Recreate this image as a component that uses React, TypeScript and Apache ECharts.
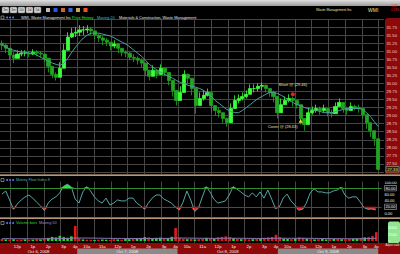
import React, { useEffect, useRef } from "react";
import * as echarts from "echarts";

// ---------- data ----------
const dayLabels = ["Oct 6, 2008", "Oct 7, 2008", "Oct 8, 2008", "Oct 9, 2008"];
const dayFirstSlot = ["11:00", "9:30", "9:30", "9:30"];

const priceClose = [
  31.19, 31.09, 30.88, 30.78, 30.91, 30.94, 30.94, 30.91, 30.97, 30.94,
  30.91, 30.78, 30.53, 30.28, 30.19, 30.47, 31.03, 31.44, 31.56, 31.59,
  31.66, 31.66, 31.69, 31.63, 31.5, 31.41, 31.34, 31.28, 31.16, 31.22,
  31.09, 30.97, 30.94, 30.81, 30.78, 30.72, 30.63, 30.41, 30.22, 30.41,
  30.28, 30.47, 30.34, 30.09, 29.78, 29.47, 29.72, 30.28, 30.16, 29.84,
  29.31, 29.53, 29.63, 29.72, 29.31, 29.16, 29.09, 28.91, 28.78, 29.22,
  29.47, 29.53, 29.59, 29.66, 29.84, 29.84, 29.91, 29.94, 29.84, 29.72,
  29.59, 29.09, 29.34, 29.47, 29.53, 29.47, 29.34, 28.91, 28.72, 29.09,
  29.16, 29.22, 29.16, 29.22, 29.09, 29.06, 29.28, 29.41, 29.22, 29.16,
  29.28, 29.25, 29.22, 29.03, 28.78, 28.53, 28.28, 27.33,
];
const priceHigh = [
  31.34, 31.22, 31.03, 30.97, 31.03, 31.03, 31.03, 31.0, 31.06, 31.03,
  31.0, 30.91, 30.72, 30.47, 30.34, 30.66, 31.22, 31.59, 31.72, 31.75,
  31.81, 31.78, 31.81, 31.75, 31.63, 31.53, 31.47, 31.41, 31.28, 31.34,
  31.25, 31.09, 31.03, 30.97, 30.91, 30.84, 30.78, 30.56, 30.41, 30.56,
  30.41, 30.59, 30.47, 30.25, 29.97, 29.63, 29.91, 30.41, 30.31, 30.03,
  29.53, 29.72, 29.78, 29.84, 29.47, 29.31, 29.25, 29.09, 28.94, 29.38,
  29.63, 29.66, 29.72, 29.78, 29.97, 29.97, 30.0, 30.03, 29.97, 29.84,
  29.78, 29.34, 29.53, 29.59, 29.66, 29.59, 29.47, 29.16, 28.91, 29.25,
  29.28, 29.34, 29.28, 29.34, 29.22, 29.19, 29.41, 29.53, 29.34, 29.28,
  29.41, 29.34, 29.34, 29.16, 28.91, 28.69, 28.47, 27.84,
];
const priceLow = [
  31.03, 30.94, 30.72, 30.63, 30.81, 30.84, 30.84, 30.81, 30.88, 30.84,
  30.81, 30.66, 30.34, 30.16, 30.09, 30.28, 30.78, 31.22, 31.41, 31.44,
  31.47, 31.5, 31.56, 31.5, 31.38, 31.28, 31.19, 31.16, 31.03, 31.09,
  30.94, 30.84, 30.81, 30.72, 30.66, 30.59, 30.5, 30.22, 30.09, 30.28,
  30.16, 30.34, 30.22, 29.94, 29.59, 29.31, 29.53, 30.16, 29.97, 29.63,
  29.06, 29.34, 29.47, 29.59, 29.09, 29.0, 28.94, 28.75, 28.66, 29.03,
  29.31, 29.38, 29.47, 29.53, 29.66, 29.72, 29.75, 29.78, 29.72, 29.59,
  29.41, 28.91, 29.16, 29.34, 29.41, 29.28, 29.22, 28.72, 28.53, 28.94,
  29.03, 29.09, 29.03, 29.09, 28.97, 28.94, 29.16, 29.28, 29.09, 29.03,
  29.16, 29.16, 29.09, 28.91, 28.59, 28.34, 28.06, 27.31,
];
const firstOpen = 31.25;

const movingAvg20 = [
  31.19, 31.13, 31.06, 31.03, 31.0, 30.97, 30.97, 30.94, 30.94, 30.88,
  30.81, 30.75, 30.69, 30.63, 30.59, 30.56, 30.63, 30.78, 30.97, 31.13,
  31.28, 31.41, 31.5, 31.56, 31.56, 31.56, 31.53, 31.5, 31.47, 31.41,
  31.34, 31.28, 31.22, 31.13, 31.03, 30.94, 30.84, 30.72, 30.59, 30.5,
  30.41, 30.34, 30.28, 30.22, 30.16, 30.09, 30.03, 30.0, 29.94, 29.91,
  29.88, 29.84, 29.78, 29.69, 29.59, 29.47, 29.38, 29.28, 29.19, 29.13,
  29.09, 29.09, 29.16, 29.25, 29.34, 29.44, 29.53, 29.59, 29.66, 29.72,
  29.72, 29.69, 29.63, 29.56, 29.47, 29.41, 29.34, 29.31, 29.25, 29.22,
  29.19, 29.16, 29.13, 29.09, 29.09, 29.09, 29.13, 29.16, 29.19, 29.22,
  29.22, 29.22, 29.22, 29.19, 29.09, 28.97, 28.81, 28.66,
];

const moneyFlow = [
  61, 71, 42, 12, 29, 42, 52, 58, 48, 35,
  23, 8, 32, 45, 52, 65, 86, 93, 84, 45,
  32, 68, 85, 71, 52, 39, 32, 48, 26, 32,
  42, 39, 39, 48, 48, 32, 23, 12, 32, 48,
  58, 58, 45, 39, 32, 19, 10, 35, 71, 42,
  5, 16, 52, 85, 68, 45, 32, 35, 39, 58,
  85, 77, 68, 58, 52, 65, 52, 68, 48, 74,
  45, 14, 20, 48, 61, 39, 26, 9, 12, 32,
  65, 78, 68, 68, 65, 65, 71, 74, 83, 58,
  48, 52, 52, 35, 17, 12, 13, 10,
];
const mfiUpper = 80;
const mfiLower = 20;

const volume = [
  800, 600, 500, 700, 400, 500, 600, 400, 500, 700,
  600, 900, 1200, 1600, 1400, 2000, 1500, 1200, 1800, 5800,
  1000, 600, 500, 500, 400, 500, 600, 500, 400, 700,
  600, 500, 800, 700, 900, 1000, 1200, 1500, 1400, 1000,
  1200, 1300, 900, 1100, 1600, 5000,
  1200, 900, 700, 800, 600, 700, 900, 1200, 1000, 800,
  1400, 1600, 1800, 1500, 1100, 900, 700, 800, 600, 700,
  800, 900, 1200, 1400, 1600, 2400,
  1500, 900, 800, 700, 900, 1400, 1200, 900, 700, 600,
  700, 800, 600, 700, 800, 900, 700, 600, 800, 900,
  1000, 1200, 1400, 1600, 1900, 3400,
];
// g = up-volume (green), r = down-volume (red), one letter per bar
const volumeSide =
  "rgrgrrgrgr" + "grgggggggr" +
  "rgrrgrggrr" + "grggrgggrg" + "ggrggr" +
  "rrgrgrrgrg" + "rrrrgrgrrg" + "rgrrrr" +
  "rggrgrrgrg" + "rggrgrgrrg" + "grgrrr";
const volumeAvg50 = [
  900, 900, 880, 870, 860, 850, 850, 840, 840, 830,
  830, 850, 870, 900, 920, 950, 980, 1000, 1030, 1150,
  1150, 1140, 1130, 1120, 1100, 1080, 1060, 1040, 1020, 1000,
  990, 980, 970, 960, 950, 950, 950, 960, 970, 980,
  990, 1000, 1000, 1010, 1030, 1150,
  1140, 1130, 1120, 1100, 1080, 1060, 1040, 1030, 1020, 1010,
  1020, 1040, 1060, 1070, 1060, 1050, 1040, 1030, 1010, 1000,
  990, 980, 990, 1000, 1020, 1060,
  1060, 1050, 1040, 1030, 1020, 1030, 1040, 1030, 1020, 1000,
  980, 960, 940, 920, 900, 890, 880, 870, 860, 860,
  870, 890, 910, 940, 980, 1040,
];

const priceTicks = [27.5, 31.75]; // labelled range
const mfiTicks = [0, 20, 40, 60, 80, 100];
const volumeTicks = [0, 2500, 5000];
const lastPrice = "27.33";
const shortTrade = { index: 75, value: 29.66, text: "Short @ (29.46)" };
const coverTrade = { index: 77, value: 28.84, text: "Cover @ (28.63)" };
const gridDivisionsPerDay = 6;

// ---------- categories (15-minute slots) ----------
type Slot = { day: number; h: number; m: number };
const slots: Slot[] = [];
dayFirstSlot.forEach((first, d) => {
  let [h, m] = first.split(":").map(Number);
  while (h < 16) {
    slots.push({ day: d, h, m });
    m += 15;
    if (m >= 60) { m -= 60; h += 1; }
  }
});
const categories = slots.map((s) => `${s.day}|${s.h}:${String(s.m).padStart(2, "0")}`);
categories.push("end");

const hourLabel = (s: Slot) => {
  if (s.h === 15 && s.m === 45) return "4p";
  if (s.m !== 0) return "";
  if (s.h < 12) return `${s.h}a`;
  if (s.h === 12) return "12p";
  return `${s.h - 12}p`;
};

const FONT = "Liberation Sans";

export default function App() {
  const ref = useRef<HTMLDivElement>(null);
  useEffect(() => {
    const chart = echarts.init(ref.current!, null, { renderer: "svg" });

    const candles = priceClose.map((c, i) => {
      const o = i === 0 ? firstOpen : priceClose[i - 1];
      const lo = Math.min(priceLow[i], o, c);
      const hi = Math.max(priceHigh[i], o, c);
      return [o, c, lo, hi];
    });
    const volData = volume.map((v, i) => ({
      value: v,
      itemStyle: { color: volumeSide[i] === "r" ? "#e81818" : "#22dd22" },
    }));
    const hiBase = moneyFlow.map(() => mfiUpper);
    const hiTop = moneyFlow.map((v) => Math.max(v - mfiUpper, 0));
    const loBase = moneyFlow.map((v) => Math.min(v, mfiLower));
    const loTop = moneyFlow.map((v) => mfiLower - Math.min(v, mfiLower));

    const xBase = (gridIndex: number) => ({
      type: "category",
      gridIndex,
      data: categories,
      boundaryGap: true,
      axisLine: { show: false },
      axisTick: { show: false },
      axisLabel: { show: false },
      splitLine: { show: false },
    });

    const legendFont = { fontFamily: FONT, fontSize: 3.8 };

    const staticGraphics: any[] = [
      // top toolbar
      { type: "rect", shape: { x: 0, y: 0, width: 400, height: 6 }, z: 1,
        style: { fill: new echarts.graphic.LinearGradient(0, 0, 0, 1, [{ offset: 0, color: "#e0e0e0" }, { offset: 1, color: "#9a9a9a" }]) } },
      ...["3m", "3m", "10t", "1d", "5d"].map((t, i) => ({
        type: "group", x: 2 + i * 8, y: 7, z: 1,
        children: [
          { type: "rect", shape: { x: 0, y: 0, width: 7, height: 6, r: 1 }, style: { fill: "#cfcfcf", stroke: "#777", lineWidth: 0.5 } },
          { type: "text", style: { x: 3.5, y: 3, text: t, fill: "#333", fontSize: 3.2, fontFamily: FONT, align: "center", verticalAlign: "middle" } },
        ],
      })),
      ...["#bbbbbb", "#3355dd", "#cc6633", "#3366ee", "#ccaa55", "#ee5522"].map((c, i) => ({
        type: "rect", z: 1, shape: { x: 46 + i * 7.5, y: 8, width: 4, height: 4 }, style: { fill: c },
      })),
      // legend row of price pane
      { type: "rect", z: 6, shape: { x: 1, y: 16, width: 3, height: 3 }, style: { fill: "#000", stroke: "#ddd", lineWidth: 0.5 } },
      ...[0, 1, 2].map((i) => ({ type: "circle", z: 6, shape: { cx: 7 + i * 3, cy: 17.5, r: 1 }, style: { fill: "#5577ee" } })),
      { type: "text", z: 6, style: { x: 21, y: 17.5, text: "WMI, Waste Management Inc", fill: "#e8e8e8", ...legendFont, verticalAlign: "middle" } },
      { type: "text", z: 6, style: { x: 72, y: 17.5, text: "Price History", fill: "#33ee33", ...legendFont, verticalAlign: "middle" } },
      { type: "text", z: 6, style: { x: 97, y: 17.5, text: "Moving 20", fill: "#44bbbb", ...legendFont, verticalAlign: "middle" } },
      { type: "text", z: 6, style: { x: 119, y: 17.5, text: "Materials & Construction, Waste Management", fill: "#e8e8e8", ...legendFont, verticalAlign: "middle" } },
      // right titles
      { type: "text", z: 6, style: { x: 316, y: 9.5, text: "Waste Management Inc", fill: "#e8e0a0", fontFamily: FONT, fontSize: 3.4, verticalAlign: "middle" } },
      { type: "text", z: 6, style: { x: 368, y: 9.5, text: "WMI", fill: "#e8e0a0", fontFamily: FONT, fontSize: 5, verticalAlign: "middle" } },
      { type: "text", z: 6, style: { x: 390.5, y: 6, text: "-0.37", fill: "#ee2222", fontFamily: FONT, fontSize: 3, verticalAlign: "middle" } },
      { type: "text", z: 6, style: { x: 390, y: 10, text: "-1.33%", fill: "#ee2222", fontFamily: FONT, fontSize: 3, verticalAlign: "middle" } },
      // price axis column
      { type: "rect", z: -1, shape: { x: 385, y: 18, width: 15, height: 156, r: [3, 0, 0, 0] }, style: { fill: "#8e0a0a" } },
      // last price tag
      { type: "rect", z: 6, shape: { x: 386, y: 166.5, width: 13, height: 5.5 }, style: { fill: "#222", stroke: "#bbb", lineWidth: 0.5 } },
      { type: "text", z: 7, style: { x: 392.5, y: 169.3, text: lastPrice, fill: "#f0e040", fontFamily: FONT, fontSize: 4.2, align: "center", verticalAlign: "middle" } },
      // cover below price pane
      { type: "rect", z: 5, shape: { x: 0, y: 174, width: 400, height: 7.5 }, style: { fill: "#000" } },
      // separators
      { type: "rect", z: 6, shape: { x: 0, y: 174.5, width: 400, height: 1.3 }, style: { fill: "#f3c9a0" } },
      { type: "rect", z: 6, shape: { x: 0, y: 217.5, width: 400, height: 1.3 }, style: { fill: "#f3c9a0" } },
      // MFI legend
      { type: "rect", z: 6, shape: { x: 1, y: 178.5, width: 3, height: 3 }, style: { fill: "#000", stroke: "#ddd", lineWidth: 0.5 } },
      ...[0, 1, 2].map((i) => ({ type: "circle", z: 6, shape: { cx: 7 + i * 3, cy: 180, r: 1 }, style: { fill: "#5577ee" } })),
      { type: "text", z: 6, style: { x: 16, y: 180, text: "Money Flow Index 8", fill: "#55aaaa", ...legendFont, verticalAlign: "middle" } },
      // Volume legend
      { type: "rect", z: 6, shape: { x: 1, y: 221.5, width: 3, height: 3 }, style: { fill: "#000", stroke: "#ddd", lineWidth: 0.5 } },
      ...[0, 1, 2].map((i) => ({ type: "circle", z: 6, shape: { cx: 7 + i * 3, cy: 223, r: 1 }, style: { fill: "#5577ee" } })),
      { type: "text", z: 6, style: { x: 16, y: 223, text: "Volume bars", fill: "#33dd33", ...legendFont, verticalAlign: "middle" } },
      { type: "text", z: 6, style: { x: 39, y: 223, text: "Moving 50", fill: "#a090c8", ...legendFont, verticalAlign: "middle" } },
      // volume axis box
      { type: "rect", z: -1, shape: { x: 388, y: 221.5, width: 12, height: 21.5, r: 2 }, style: { fill: "#8fe88f" } },
      // bottom time band
      { type: "rect", z: -1, shape: { x: 0, y: 243, width: 400, height: 11 }, style: { fill: "#8e0a0a" } },
      { type: "text", z: 6, style: { x: 385.5, y: 245.5, text: "Adjust scale", fill: "#e8e8e8", fontFamily: FONT, fontSize: 2.6, verticalAlign: "middle" } },
    ];

    const option: any = {
      animation: false,
      backgroundColor: "#000",
      textStyle: { fontFamily: FONT },
      grid: [
        { left: 0, width: 385, top: 19, height: 161 },
        { left: 0, width: 385, top: 182, height: 31 },
        { left: 0, width: 385, top: 222, height: 19 },
      ],
      xAxis: [
        xBase(0),
        xBase(1),
        {
          ...xBase(2),
          axisLabel: {
            show: true,
            interval: (i: number) => i > 0 && !!slots[i] && hourLabel(slots[i]) !== "",
            formatter: (_v: string, i: number) => (slots[i] ? hourLabel(slots[i]) : ""),
            color: "#f0f0f0",
            fontSize: 4.2,
            margin: 3.5,
            fontFamily: FONT,
          },
        },
      ],
      yAxis: [
        {
          type: "value", gridIndex: 0, position: "right", min: 27, max: 32, interval: 0.25,
          axisLine: { show: false }, axisTick: { show: false },
          axisLabel: {
            color: "#f2d2d2", fontSize: 4.2, margin: 2.5, fontFamily: FONT,
            formatter: (v: number) => (v >= priceTicks[0] - 1e-6 && v <= priceTicks[1] + 1e-6 ? v.toFixed(2) : ""),
          },
          splitLine: { show: true, lineStyle: { color: "#464646", width: 1 } },
        },
        {
          type: "value", gridIndex: 1, position: "right", min: 0, max: 100, interval: 20,
          axisLine: { show: false }, axisTick: { show: false },
          axisLabel: {
            color: "#f0f0f0", fontSize: 4, margin: 3, fontFamily: FONT,
            formatter: (v: number) => (mfiTicks.includes(v) ? (v === mfiUpper || v === mfiLower ? `{b|${v.toFixed(2)}}` : v.toFixed(2)) : ""),
            rich: { b: { color: "#f0f0f0", fontSize: 4, borderColor: "#bbb", borderWidth: 0.5, padding: [0.5, 1], backgroundColor: "#111" } },
          },
          splitLine: { show: false },
        },
        {
          type: "value", gridIndex: 2, position: "right", min: 0, max: 7300, interval: 2500,
          axisLine: { show: false }, axisTick: { show: false },
          axisLabel: {
            color: "#f8fff8", fontSize: 4, margin: 6, fontFamily: FONT,
            formatter: (v: number) => (volumeTicks.includes(v) ? String(v) : ""),
          },
          splitLine: { show: false },
        },
      ],
      series: [
        {
          type: "candlestick", xAxisIndex: 0, yAxisIndex: 0, data: candles, barMaxWidth: 3.6, barWidth: 3.6,
          itemStyle: { color: "#3cff3c", color0: "#22a522", borderColor: "#3cff3c", borderColor0: "#22a522", borderWidth: 0.8 },
          markPoint: {
            data: [
              {
                coord: [categories[shortTrade.index], shortTrade.value], symbol: "circle", symbolSize: 4,
                itemStyle: { color: "#e02222" },
                label: { show: true, formatter: shortTrade.text, position: "top", distance: 6, color: "#e8e0b0", fontSize: 4, fontFamily: FONT },
              },
              {
                coord: [categories[coverTrade.index], coverTrade.value], symbol: "triangle", symbolSize: 4,
                itemStyle: { color: "#eed040" },
                label: { show: true, formatter: coverTrade.text, position: "left", distance: 1, offset: [0, 6], color: "#e8e0b0", fontSize: 4, fontFamily: FONT },
              },
            ],
          },
        },
        {
          type: "line", xAxisIndex: 0, yAxisIndex: 0, data: movingAvg20, symbol: "none", z: 3,
          lineStyle: { color: "#4e9e9e", width: 1 },
        },
        { type: "line", xAxisIndex: 1, yAxisIndex: 1, data: hiBase, stack: "hi", symbol: "none", lineStyle: { opacity: 0 } },
        { type: "line", xAxisIndex: 1, yAxisIndex: 1, data: hiTop, stack: "hi", symbol: "none", lineStyle: { opacity: 0 }, areaStyle: { color: "#22ee22", opacity: 1 } },
        { type: "line", xAxisIndex: 1, yAxisIndex: 1, data: loBase, stack: "lo", symbol: "none", lineStyle: { opacity: 0 } },
        { type: "line", xAxisIndex: 1, yAxisIndex: 1, data: loTop, stack: "lo", symbol: "none", lineStyle: { opacity: 0 }, areaStyle: { color: "#ee2020", opacity: 1 } },
        {
          type: "line", xAxisIndex: 1, yAxisIndex: 1, data: moneyFlow, symbol: "none", z: 4,
          lineStyle: { color: "#5aa4a4", width: 1 },
          markLine: {
            silent: true, symbol: ["none", "none"], label: { show: false },
            data: [
              { yAxis: mfiUpper, lineStyle: { color: "#2f8f2f", width: 1, type: "solid" } },
              { yAxis: mfiLower, lineStyle: { color: "#b02020", width: 1, type: "solid" } },
            ],
          },
        },
        { type: "bar", xAxisIndex: 2, yAxisIndex: 2, data: volData, barWidth: 2.6 },
        { type: "line", xAxisIndex: 2, yAxisIndex: 2, data: volumeAvg50, symbol: "none", z: 4, lineStyle: { color: "#8a78b4", width: 1 } },
      ],
      graphic: staticGraphics,
    };
    chart.setOption(option);

    // day spans, read back from the category axis
    const px = (i: number) => chart.convertToPixel({ xAxisIndex: 2 }, i) as number;
    const band = px(1) - px(0);
    const spans = dayLabels.map((_l, d) => {
      const idx = slots.map((s, i) => (s.day === d ? i : -1)).filter((i) => i >= 0);
      return [px(idx[0]) - band / 2, px(idx[idx.length - 1]) + band / 2];
    });
    const fullDay = spans[1][1] - spans[1][0];
    const step = fullDay / gridDivisionsPerDay;
    const vx: number[] = [];
    for (let x = spans[0][1] - step; x > 0; x -= step) vx.push(x);
    spans.slice(1).forEach(([x0]) => {
      for (let k = 0; k < gridDivisionsPerDay; k++) vx.push(x0 + k * step);
    });
    vx.push(spans[3][1]);
    const panes = [[19, 174], [176, 217], [219, 243]];
    const gridLines: any[] = [];
    vx.forEach((x) => panes.forEach(([y1, y2]) => {
      gridLines.push({ type: "line", z: 0, shape: { x1: Math.round(x) + 0.5, y1, x2: Math.round(x) + 0.5, y2 }, style: { stroke: "#464646", lineWidth: 1 } });
    }));

    const dateGraphics: any[] = [];
    dayLabels.forEach((label, d) => {
      const [x0, x1] = spans[d];
      if (d % 2 === 1) {
        dateGraphics.push({ type: "rect", z: 1, shape: { x: x0, y: 248.5, width: x1 - x0, height: 5.5 }, style: { fill: "#8a8a8a" } });
      }
      dateGraphics.push({
        type: "text", z: 6,
        style: { x: (x0 + x1) / 2, y: 251.3, text: label, fill: "#f4f4f4", fontFamily: FONT, fontSize: 4.2, align: "center", verticalAlign: "middle" },
      });
    });
    chart.setOption({ graphic: [...staticGraphics, ...gridLines, ...dateGraphics] });

    return () => chart.dispose();
  }, []);
  return <div ref={ref} style={{ position: "fixed", left: 0, top: 0, width: 400, height: 254 }} />;
}
